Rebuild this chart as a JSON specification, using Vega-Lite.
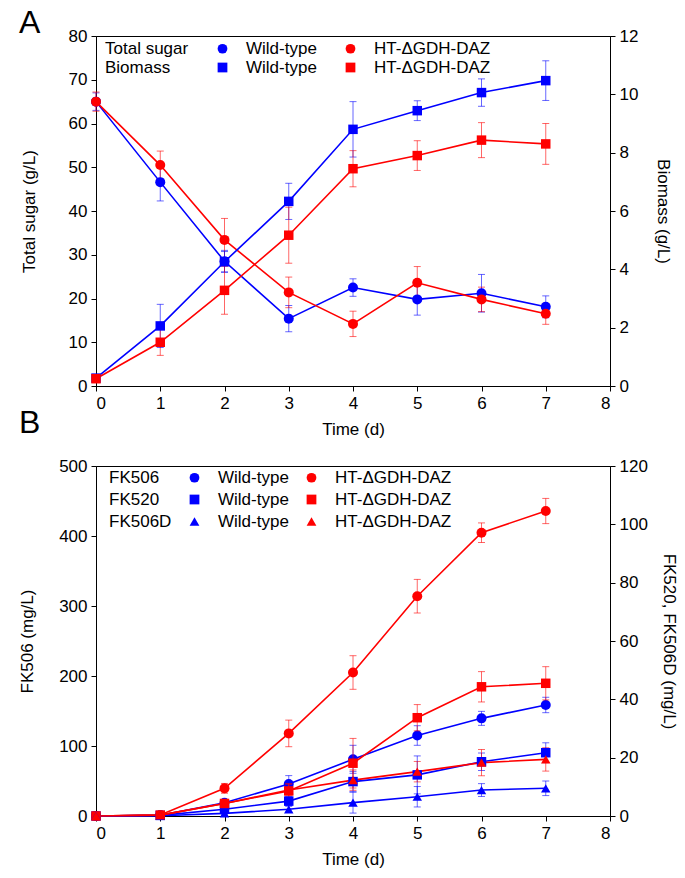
{
  "$schema": "https://vega.github.io/schema/vega-lite/v6.json",
  "padding": {"left": 18, "top": 6, "right": 5, "bottom": 5},
  "background": "white",
  "config": {
    "font": "Liberation Sans",
    "view": {"stroke": "black", "strokeWidth": 1},
    "axis": {"labelFontSize": 17, "titleFontSize": 17, "titleFontWeight": "normal", "labelColor": "black", "titleColor": "black", "domainColor": "black", "tickColor": "black", "grid": false, "tickSize": 5, "labelPadding": 4, "labelFont": "Liberation Sans", "titleFont": "Liberation Sans"},
    "title": {"font": "Liberation Sans", "fontWeight": "normal", "color": "black"}
  },
  "datasets": {
    "sugar": [
      {"t": 0, "v": 65, "e": 2, "m": "Total sugar", "g": "Wild-type", "s": "Total sugar|Wild-type"},
      {"t": 1, "v": 46.6, "e": 4.3, "m": "Total sugar", "g": "Wild-type", "s": "Total sugar|Wild-type"},
      {"t": 2, "v": 28.5, "e": 2.5, "m": "Total sugar", "g": "Wild-type", "s": "Total sugar|Wild-type"},
      {"t": 3, "v": 15.4, "e": 3, "m": "Total sugar", "g": "Wild-type", "s": "Total sugar|Wild-type"},
      {"t": 4, "v": 22.5, "e": 2, "m": "Total sugar", "g": "Wild-type", "s": "Total sugar|Wild-type"},
      {"t": 5, "v": 19.8, "e": 3.6, "m": "Total sugar", "g": "Wild-type", "s": "Total sugar|Wild-type"},
      {"t": 6, "v": 21.2, "e": 4.3, "m": "Total sugar", "g": "Wild-type", "s": "Total sugar|Wild-type"},
      {"t": 7, "v": 18.1, "e": 2.5, "m": "Total sugar", "g": "Wild-type", "s": "Total sugar|Wild-type"},
      {"t": 0, "v": 65, "e": 2.2, "m": "Total sugar", "g": "HT-ΔGDH-DAZ", "s": "Total sugar|HT-ΔGDH-DAZ"},
      {"t": 1, "v": 50.5, "e": 3.2, "m": "Total sugar", "g": "HT-ΔGDH-DAZ", "s": "Total sugar|HT-ΔGDH-DAZ"},
      {"t": 2, "v": 33.4, "e": 4.9, "m": "Total sugar", "g": "HT-ΔGDH-DAZ", "s": "Total sugar|HT-ΔGDH-DAZ"},
      {"t": 3, "v": 21.4, "e": 3.5, "m": "Total sugar", "g": "HT-ΔGDH-DAZ", "s": "Total sugar|HT-ΔGDH-DAZ"},
      {"t": 4, "v": 14.2, "e": 2.9, "m": "Total sugar", "g": "HT-ΔGDH-DAZ", "s": "Total sugar|HT-ΔGDH-DAZ"},
      {"t": 5, "v": 23.6, "e": 3.7, "m": "Total sugar", "g": "HT-ΔGDH-DAZ", "s": "Total sugar|HT-ΔGDH-DAZ"},
      {"t": 6, "v": 19.8, "e": 2.8, "m": "Total sugar", "g": "HT-ΔGDH-DAZ", "s": "Total sugar|HT-ΔGDH-DAZ"},
      {"t": 7, "v": 16.5, "e": 2.4, "m": "Total sugar", "g": "HT-ΔGDH-DAZ", "s": "Total sugar|HT-ΔGDH-DAZ"}
    ],
    "biomass": [
      {"t": 0, "v": 0.27, "e": 0.1, "m": "Biomass", "g": "Wild-type", "s": "Biomass|Wild-type"},
      {"t": 1, "v": 2.06, "e": 0.74, "m": "Biomass", "g": "Wild-type", "s": "Biomass|Wild-type"},
      {"t": 2, "v": 4.26, "e": 0.35, "m": "Biomass", "g": "Wild-type", "s": "Biomass|Wild-type"},
      {"t": 3, "v": 6.33, "e": 0.62, "m": "Biomass", "g": "Wild-type", "s": "Biomass|Wild-type"},
      {"t": 4, "v": 8.8, "e": 0.95, "m": "Biomass", "g": "Wild-type", "s": "Biomass|Wild-type"},
      {"t": 5, "v": 9.44, "e": 0.34, "m": "Biomass", "g": "Wild-type", "s": "Biomass|Wild-type"},
      {"t": 6, "v": 10.06, "e": 0.47, "m": "Biomass", "g": "Wild-type", "s": "Biomass|Wild-type"},
      {"t": 7, "v": 10.47, "e": 0.68, "m": "Biomass", "g": "Wild-type", "s": "Biomass|Wild-type"},
      {"t": 0, "v": 0.25, "e": 0.12, "m": "Biomass", "g": "HT-ΔGDH-DAZ", "s": "Biomass|HT-ΔGDH-DAZ"},
      {"t": 1, "v": 1.5, "e": 0.45, "m": "Biomass", "g": "HT-ΔGDH-DAZ", "s": "Biomass|HT-ΔGDH-DAZ"},
      {"t": 2, "v": 3.28, "e": 0.82, "m": "Biomass", "g": "HT-ΔGDH-DAZ", "s": "Biomass|HT-ΔGDH-DAZ"},
      {"t": 3, "v": 5.17, "e": 0.96, "m": "Biomass", "g": "HT-ΔGDH-DAZ", "s": "Biomass|HT-ΔGDH-DAZ"},
      {"t": 4, "v": 7.45, "e": 0.62, "m": "Biomass", "g": "HT-ΔGDH-DAZ", "s": "Biomass|HT-ΔGDH-DAZ"},
      {"t": 5, "v": 7.9, "e": 0.51, "m": "Biomass", "g": "HT-ΔGDH-DAZ", "s": "Biomass|HT-ΔGDH-DAZ"},
      {"t": 6, "v": 8.43, "e": 0.6, "m": "Biomass", "g": "HT-ΔGDH-DAZ", "s": "Biomass|HT-ΔGDH-DAZ"},
      {"t": 7, "v": 8.3, "e": 0.7, "m": "Biomass", "g": "HT-ΔGDH-DAZ", "s": "Biomass|HT-ΔGDH-DAZ"}
    ],
    "fk506": [
      {"t": 0, "v": 0, "e": 0.5, "m": "FK506", "g": "Wild-type", "s": "FK506|Wild-type"},
      {"t": 1, "v": 1, "e": 1, "m": "FK506", "g": "Wild-type", "s": "FK506|Wild-type"},
      {"t": 2, "v": 19, "e": 4, "m": "FK506", "g": "Wild-type", "s": "FK506|Wild-type"},
      {"t": 3, "v": 45.7, "e": 12, "m": "FK506", "g": "Wild-type", "s": "FK506|Wild-type"},
      {"t": 4, "v": 81, "e": 20, "m": "FK506", "g": "Wild-type", "s": "FK506|Wild-type"},
      {"t": 5, "v": 115, "e": 14, "m": "FK506", "g": "Wild-type", "s": "FK506|Wild-type"},
      {"t": 6, "v": 139.5, "e": 10, "m": "FK506", "g": "Wild-type", "s": "FK506|Wild-type"},
      {"t": 7, "v": 158.6, "e": 11, "m": "FK506", "g": "Wild-type", "s": "FK506|Wild-type"},
      {"t": 0, "v": 0, "e": 0.5, "m": "FK506", "g": "HT-ΔGDH-DAZ", "s": "FK506|HT-ΔGDH-DAZ"},
      {"t": 1, "v": 1.5, "e": 1, "m": "FK506", "g": "HT-ΔGDH-DAZ", "s": "FK506|HT-ΔGDH-DAZ"},
      {"t": 2, "v": 39.5, "e": 7, "m": "FK506", "g": "HT-ΔGDH-DAZ", "s": "FK506|HT-ΔGDH-DAZ"},
      {"t": 3, "v": 118, "e": 19, "m": "FK506", "g": "HT-ΔGDH-DAZ", "s": "FK506|HT-ΔGDH-DAZ"},
      {"t": 4, "v": 205, "e": 24, "m": "FK506", "g": "HT-ΔGDH-DAZ", "s": "FK506|HT-ΔGDH-DAZ"},
      {"t": 5, "v": 314, "e": 24, "m": "FK506", "g": "HT-ΔGDH-DAZ", "s": "FK506|HT-ΔGDH-DAZ"},
      {"t": 6, "v": 404.7, "e": 14, "m": "FK506", "g": "HT-ΔGDH-DAZ", "s": "FK506|HT-ΔGDH-DAZ"},
      {"t": 7, "v": 435.7, "e": 18, "m": "FK506", "g": "HT-ΔGDH-DAZ", "s": "FK506|HT-ΔGDH-DAZ"}
    ],
    "fk520d": [
      {"t": 0, "v": 0, "e": 0.2, "m": "FK520", "g": "Wild-type", "s": "FK520|Wild-type"},
      {"t": 1, "v": 0.2, "e": 0.2, "m": "FK520", "g": "Wild-type", "s": "FK520|Wild-type"},
      {"t": 2, "v": 2.3, "e": 1, "m": "FK520", "g": "Wild-type", "s": "FK520|Wild-type"},
      {"t": 3, "v": 5.1, "e": 1.5, "m": "FK520", "g": "Wild-type", "s": "FK520|Wild-type"},
      {"t": 4, "v": 11.8, "e": 3.5, "m": "FK520", "g": "Wild-type", "s": "FK520|Wild-type"},
      {"t": 5, "v": 14.1, "e": 6.5, "m": "FK520", "g": "Wild-type", "s": "FK520|Wild-type"},
      {"t": 6, "v": 18.6, "e": 3, "m": "FK520", "g": "Wild-type", "s": "FK520|Wild-type"},
      {"t": 7, "v": 21.7, "e": 3.4, "m": "FK520", "g": "Wild-type", "s": "FK520|Wild-type"},
      {"t": 0, "v": 0, "e": 0.2, "m": "FK520", "g": "HT-ΔGDH-DAZ", "s": "FK520|HT-ΔGDH-DAZ"},
      {"t": 1, "v": 0.3, "e": 0.2, "m": "FK520", "g": "HT-ΔGDH-DAZ", "s": "FK520|HT-ΔGDH-DAZ"},
      {"t": 2, "v": 4.3, "e": 1, "m": "FK520", "g": "HT-ΔGDH-DAZ", "s": "FK520|HT-ΔGDH-DAZ"},
      {"t": 3, "v": 8.6, "e": 2.5, "m": "FK520", "g": "HT-ΔGDH-DAZ", "s": "FK520|HT-ΔGDH-DAZ"},
      {"t": 4, "v": 18.1, "e": 8.5, "m": "FK520", "g": "HT-ΔGDH-DAZ", "s": "FK520|HT-ΔGDH-DAZ"},
      {"t": 5, "v": 33.7, "e": 4.5, "m": "FK520", "g": "HT-ΔGDH-DAZ", "s": "FK520|HT-ΔGDH-DAZ"},
      {"t": 6, "v": 44.3, "e": 5.2, "m": "FK520", "g": "HT-ΔGDH-DAZ", "s": "FK520|HT-ΔGDH-DAZ"},
      {"t": 7, "v": 45.5, "e": 5.7, "m": "FK520", "g": "HT-ΔGDH-DAZ", "s": "FK520|HT-ΔGDH-DAZ"},
      {"t": 0, "v": 0, "e": 0.2, "m": "FK506D", "g": "Wild-type", "s": "FK506D|Wild-type"},
      {"t": 1, "v": 0.1, "e": 0.2, "m": "FK506D", "g": "Wild-type", "s": "FK506D|Wild-type"},
      {"t": 2, "v": 0.9, "e": 0.5, "m": "FK506D", "g": "Wild-type", "s": "FK506D|Wild-type"},
      {"t": 3, "v": 2.3, "e": 1, "m": "FK506D", "g": "Wild-type", "s": "FK506D|Wild-type"},
      {"t": 4, "v": 4.6, "e": 3.6, "m": "FK506D", "g": "Wild-type", "s": "FK506D|Wild-type"},
      {"t": 5, "v": 6.6, "e": 3.5, "m": "FK506D", "g": "Wild-type", "s": "FK506D|Wild-type"},
      {"t": 6, "v": 8.9, "e": 2.2, "m": "FK506D", "g": "Wild-type", "s": "FK506D|Wild-type"},
      {"t": 7, "v": 9.5, "e": 2.5, "m": "FK506D", "g": "Wild-type", "s": "FK506D|Wild-type"},
      {"t": 0, "v": 0, "e": 0.2, "m": "FK506D", "g": "HT-ΔGDH-DAZ", "s": "FK506D|HT-ΔGDH-DAZ"},
      {"t": 1, "v": 0.3, "e": 0.2, "m": "FK506D", "g": "HT-ΔGDH-DAZ", "s": "FK506D|HT-ΔGDH-DAZ"},
      {"t": 2, "v": 4.3, "e": 1, "m": "FK506D", "g": "HT-ΔGDH-DAZ", "s": "FK506D|HT-ΔGDH-DAZ"},
      {"t": 3, "v": 8.9, "e": 2, "m": "FK506D", "g": "HT-ΔGDH-DAZ", "s": "FK506D|HT-ΔGDH-DAZ"},
      {"t": 4, "v": 12.3, "e": 3.5, "m": "FK506D", "g": "HT-ΔGDH-DAZ", "s": "FK506D|HT-ΔGDH-DAZ"},
      {"t": 5, "v": 15.2, "e": 3.5, "m": "FK506D", "g": "HT-ΔGDH-DAZ", "s": "FK506D|HT-ΔGDH-DAZ"},
      {"t": 6, "v": 18.3, "e": 4.5, "m": "FK506D", "g": "HT-ΔGDH-DAZ", "s": "FK506D|HT-ΔGDH-DAZ"},
      {"t": 7, "v": 19.4, "e": 4, "m": "FK506D", "g": "HT-ΔGDH-DAZ", "s": "FK506D|HT-ΔGDH-DAZ"}
    ]
  },
  "spacing": 80,
  "bounds": "flush",
  "resolve": {"scale": {"color": "independent", "shape": "independent"}, "legend": {"color": "independent", "shape": "independent"}},
  "vconcat": [
    {
      "width": 514,
      "height": 350,
      "title": {"text": "A", "anchor": "start", "frame": "group", "fontSize": 32, "dx": -77, "offset": -38, "baseline": "alphabetic"},
      "encoding": {
        "x": {"field": "t", "type": "quantitative", "scale": {"domain": [0, 8], "nice": false}, "axis": {"title": "Time (d)", "values": [0, 1, 2, 3, 4, 5, 6, 7, 8], "format": "d", "titlePadding": 10}},
        "color": {
          "field": "s", "type": "nominal",
          "scale": {"domain": ["Total sugar", "Biomass", "Total sugar|Wild-type", "Biomass|Wild-type", "Total sugar|HT-ΔGDH-DAZ", "Biomass|HT-ΔGDH-DAZ"], "range": ["transparent", "transparent", "#0000ff", "#0000ff", "#ff0000", "#ff0000"]},
          "legend": {
            "orient": "none", "legendX": -23, "legendY": 4, "title": null, "columns": 3, "columnPadding": 25, "rowPadding": 1,
            "symbolSize": 95, "symbolOpacity": 1, "symbolStrokeWidth": 0, "labelOffset": 15, "labelFontSize": 17, "labelFont": "Liberation Sans", "labelColor": "black", "labelLimit": 200,
            "labelExpr": "indexof(datum.label,'|')>=0 ? split(datum.label,'|')[1] : datum.label"
          }
        }
      },
      "layer": [
        {
          "data": {"name": "sugar"},
          "encoding": {
            "y": {"field": "v", "type": "quantitative", "scale": {"domain": [0, 80], "nice": false}, "axis": {"title": "Total sugar (g/L)", "values": [0, 10, 20, 30, 40, 50, 60, 70, 80], "titlePadding": 30}}
          },
          "layer": [
            {"mark": {"type": "errorbar", "ticks": {"size": 7, "opacity": 0.6}, "rule": {"opacity": 0.6}, "thickness": 1}, "encoding": {"yError": {"field": "e"}}},
            {"mark": {"type": "line", "strokeWidth": 1.6}},
            {"mark": {"type": "point", "filled": true, "size": 100, "opacity": 1},
             "encoding": {"shape": {"field": "s", "type": "nominal", "scale": {"domain": ["Total sugar", "Biomass", "Total sugar|Wild-type", "Biomass|Wild-type", "Total sugar|HT-ΔGDH-DAZ", "Biomass|HT-ΔGDH-DAZ"], "range": ["circle", "square", "circle", "square", "circle", "square"]}}}}
          ]
        },
        {
          "data": {"name": "biomass"},
          "encoding": {
            "y": {"field": "v", "type": "quantitative", "scale": {"domain": [0, 12], "nice": false}, "axis": {"title": "Biomass (g/L)", "orient": "right", "values": [0, 2, 4, 6, 8, 10, 12], "titlePadding": 16}}
          },
          "layer": [
            {"mark": {"type": "errorbar", "ticks": {"size": 7, "opacity": 0.6}, "rule": {"opacity": 0.6}, "thickness": 1}, "encoding": {"yError": {"field": "e"}}},
            {"mark": {"type": "line", "strokeWidth": 1.6}},
            {"mark": {"type": "point", "filled": true, "size": 90, "opacity": 1},
             "encoding": {"shape": {"field": "s", "type": "nominal", "scale": {"domain": ["Total sugar", "Biomass", "Total sugar|Wild-type", "Biomass|Wild-type", "Total sugar|HT-ΔGDH-DAZ", "Biomass|HT-ΔGDH-DAZ"], "range": ["circle", "square", "circle", "square", "circle", "square"]}}}}
          ]
        }
      ],
      "resolve": {"scale": {"y": "independent"}}
    },
    {
      "width": 514,
      "height": 350,
      "title": {"text": "B", "anchor": "start", "frame": "group", "fontSize": 32, "dx": -77, "offset": -8, "baseline": "alphabetic"},
      "encoding": {
        "x": {"field": "t", "type": "quantitative", "scale": {"domain": [0, 8], "nice": false}, "axis": {"title": "Time (d)", "values": [0, 1, 2, 3, 4, 5, 6, 7, 8], "format": "d", "titlePadding": 10}},
        "color": {
          "field": "s", "type": "nominal",
          "scale": {"domain": ["FK506", "FK520", "FK506D", "FK506|Wild-type", "FK520|Wild-type", "FK506D|Wild-type", "FK506|HT-ΔGDH-DAZ", "FK520|HT-ΔGDH-DAZ", "FK506D|HT-ΔGDH-DAZ"], "range": ["transparent", "transparent", "transparent", "#0000ff", "#0000ff", "#0000ff", "#ff0000", "#ff0000", "#ff0000"]},
          "legend": {
            "orient": "none", "legendX": -19, "legendY": 3, "title": null, "columns": 3, "columnPadding": 14, "rowPadding": 4,
            "symbolSize": 95, "symbolOpacity": 1, "symbolStrokeWidth": 0, "labelOffset": 15, "labelFontSize": 17, "labelFont": "Liberation Sans", "labelColor": "black", "labelLimit": 200,
            "labelExpr": "indexof(datum.label,'|')>=0 ? split(datum.label,'|')[1] : datum.label"
          }
        }
      },
      "layer": [
        {
          "data": {"name": "fk506"},
          "encoding": {
            "y": {"field": "v", "type": "quantitative", "scale": {"domain": [0, 500], "nice": false}, "axis": {"title": "FK506 (mg/L)", "values": [0, 100, 200, 300, 400, 500], "titlePadding": 22}}
          },
          "layer": [
            {"mark": {"type": "errorbar", "ticks": {"size": 7, "opacity": 0.6}, "rule": {"opacity": 0.6}, "thickness": 1}, "encoding": {"yError": {"field": "e"}}},
            {"mark": {"type": "line", "strokeWidth": 1.6}},
            {"mark": {"type": "point", "filled": true, "size": 100, "opacity": 1},
             "encoding": {"shape": {"field": "s", "type": "nominal", "scale": {"domain": ["FK506", "FK520", "FK506D", "FK506|Wild-type", "FK520|Wild-type", "FK506D|Wild-type", "FK506|HT-ΔGDH-DAZ", "FK520|HT-ΔGDH-DAZ", "FK506D|HT-ΔGDH-DAZ"], "range": ["circle", "square", "triangle-up", "circle", "square", "triangle-up", "circle", "square", "triangle-up"]}}}}
          ]
        },
        {
          "data": {"name": "fk520d"},
          "encoding": {
            "y": {"field": "v", "type": "quantitative", "scale": {"domain": [0, 120], "nice": false}, "axis": {"title": "FK520, FK506D (mg/L)", "orient": "right", "values": [0, 20, 40, 60, 80, 100, 120], "titlePadding": 12}}
          },
          "layer": [
            {"mark": {"type": "errorbar", "ticks": {"size": 7, "opacity": 0.6}, "rule": {"opacity": 0.6}, "thickness": 1}, "encoding": {"yError": {"field": "e"}}},
            {"mark": {"type": "line", "strokeWidth": 1.6}},
            {"mark": {"type": "point", "filled": true, "size": 90, "opacity": 1},
             "encoding": {"shape": {"field": "s", "type": "nominal", "scale": {"domain": ["FK506", "FK520", "FK506D", "FK506|Wild-type", "FK520|Wild-type", "FK506D|Wild-type", "FK506|HT-ΔGDH-DAZ", "FK520|HT-ΔGDH-DAZ", "FK506D|HT-ΔGDH-DAZ"], "range": ["circle", "square", "triangle-up", "circle", "square", "triangle-up", "circle", "square", "triangle-up"]}}}}
          ]
        }
      ],
      "resolve": {"scale": {"y": "independent"}}
    }
  ]
}
